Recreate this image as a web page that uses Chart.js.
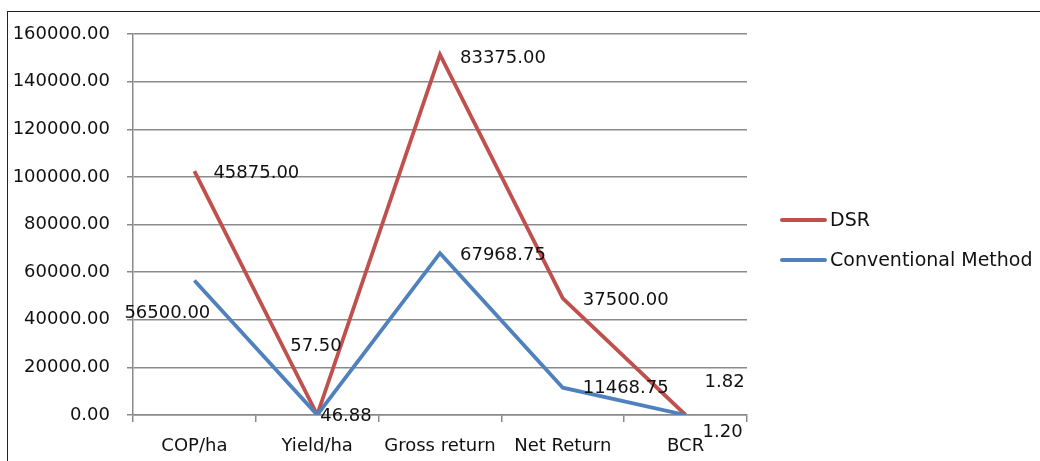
<!DOCTYPE html>
<html>
<head>
<meta charset="utf-8">
<script src="https://cdn.jsdelivr.net/npm/chart.js@4.4.1/dist/chart.umd.min.js"></script>
<style>
  html, body { margin: 0; padding: 0; background: #fff; }
  #wrap { position: relative; width: 1040px; height: 461px; overflow: hidden; }
  #frame { position: absolute; left: 7px; top: 11px; width: 1040px; height: 460px; border: 1.5px solid #222; box-sizing: border-box; }
  canvas { position: absolute; left: 0; top: 0; }
</style>
</head>
<body>
<div id="wrap">
  <div id="frame"></div>
  <canvas id="chart" width="1040" height="461"></canvas>
</div>
<script>
const categories = ['COP/ha', 'Yield/ha', 'Gross return', 'Net Return', 'BCR'];
const dsrValues = [45875.00, 57.50, 83375.00, 37500.00, 1.82];
const conventionalValues = [56500.00, 46.88, 67968.75, 11468.75, 1.20];
const yTicks = [0, 20000, 40000, 60000, 80000, 100000, 120000, 140000, 160000];

const FONT = '"DejaVu Sans", sans-serif';
const RED = '#C0504D';
const BLUE = '#4F81BD';

// value labels, placed next to each point (offsets in px from the point)
const valueLabels = {
    id: 'valueLabels',
    afterDatasetsDraw(chart) {
        const ctx = chart.ctx;
        ctx.save();
        ctx.font = '18px ' + FONT;
        ctx.fillStyle = '#111';
        ctx.textAlign = 'left';
        ctx.textBaseline = 'middle';
        chart.data.datasets.forEach((ds, di) => {
            const meta = chart.getDatasetMeta(di);
            meta.data.forEach((pt, i) => {
                const off = ds.labelOffsets[i];
                ctx.fillText(ds.data[i].toFixed(2), pt.x + off[0], pt.y + off[1]);
            });
        });
        ctx.restore();
    }
};

// legend drawn to the right of the plot
const sideLegend = {
    id: 'sideLegend',
    afterDraw(chart) {
        const ctx = chart.ctx;
        const items = [
            { label: 'DSR', color: RED, y: 220 },
            { label: 'Conventional Method', color: BLUE, y: 260 }
        ];
        ctx.save();
        ctx.font = '19px ' + FONT;
        ctx.fillStyle = '#111';
        ctx.textBaseline = 'middle';
        items.forEach(it => {
            ctx.strokeStyle = it.color;
            ctx.lineWidth = 4;
            ctx.lineCap = 'round';
            ctx.beginPath();
            ctx.moveTo(782, it.y);
            ctx.lineTo(825, it.y);
            ctx.stroke();
            ctx.fillText(it.label, 830, it.y + 1);
        });
        ctx.restore();
    }
};

const ctx = document.getElementById('chart').getContext('2d');
new Chart(ctx, {
    type: 'line',
    data: {
        labels: categories,
        datasets: [
            {
                label: 'Conventional Method',
                data: conventionalValues,
                borderColor: BLUE,
                backgroundColor: BLUE,
                borderWidth: 3.8,
                pointRadius: 0,
                tension: 0,
                fill: false,
                labelOffsets: [[-70, 33], [3, 1], [20, 2], [20, 1], [17, 17]]
            },
            {
                label: 'DSR',
                data: dsrValues,
                borderColor: RED,
                backgroundColor: RED,
                borderWidth: 3.8,
                pointRadius: 0,
                tension: 0,
                fill: false,
                labelOffsets: [[19, 2], [-27, -68], [20, 4], [20, 2], [19, -33]]
            }
        ]
    },
    options: {
        responsive: false,
        animation: false,
        layout: { padding: { left: 0, right: 293, top: 34, bottom: 0 } },
        plugins: {
            legend: { display: false },
            tooltip: { enabled: false }
        },
        scales: {
            x: {
                offset: true,
                grid: {
                    offset: true,
                    drawOnChartArea: false,
                    drawTicks: true,
                    tickLength: 7,
                    color: '#8a8a8a',
                    lineWidth: 1.5
                },
                border: { color: '#8a8a8a', width: 1.5 },
                ticks: {
                    font: { family: FONT, size: 18 },
                    color: '#111',
                    padding: 14,
                    maxRotation: 0,
                    autoSkip: false
                },
                afterFit(scale) { scale.height = 46; }
            },
            y: {
                stacked: true,
                min: 0,
                max: 160000,
                afterBuildTicks(scale) { scale.ticks = yTicks.map(v => ({ value: v })); },
                grid: {
                    color: '#8a8a8a',
                    lineWidth: 1.5,
                    drawTicks: true,
                    tickLength: 6
                },
                border: { color: '#8a8a8a', width: 1.5 },
                ticks: {
                    font: { family: FONT, size: 18 },
                    color: '#111',
                    padding: 17,
                    callback: v => Number(v).toFixed(2)
                },
                afterFit(scale) { scale.width = 133; }
            }
        }
    },
    plugins: [valueLabels, sideLegend]
});
</script>
</body>
</html>
